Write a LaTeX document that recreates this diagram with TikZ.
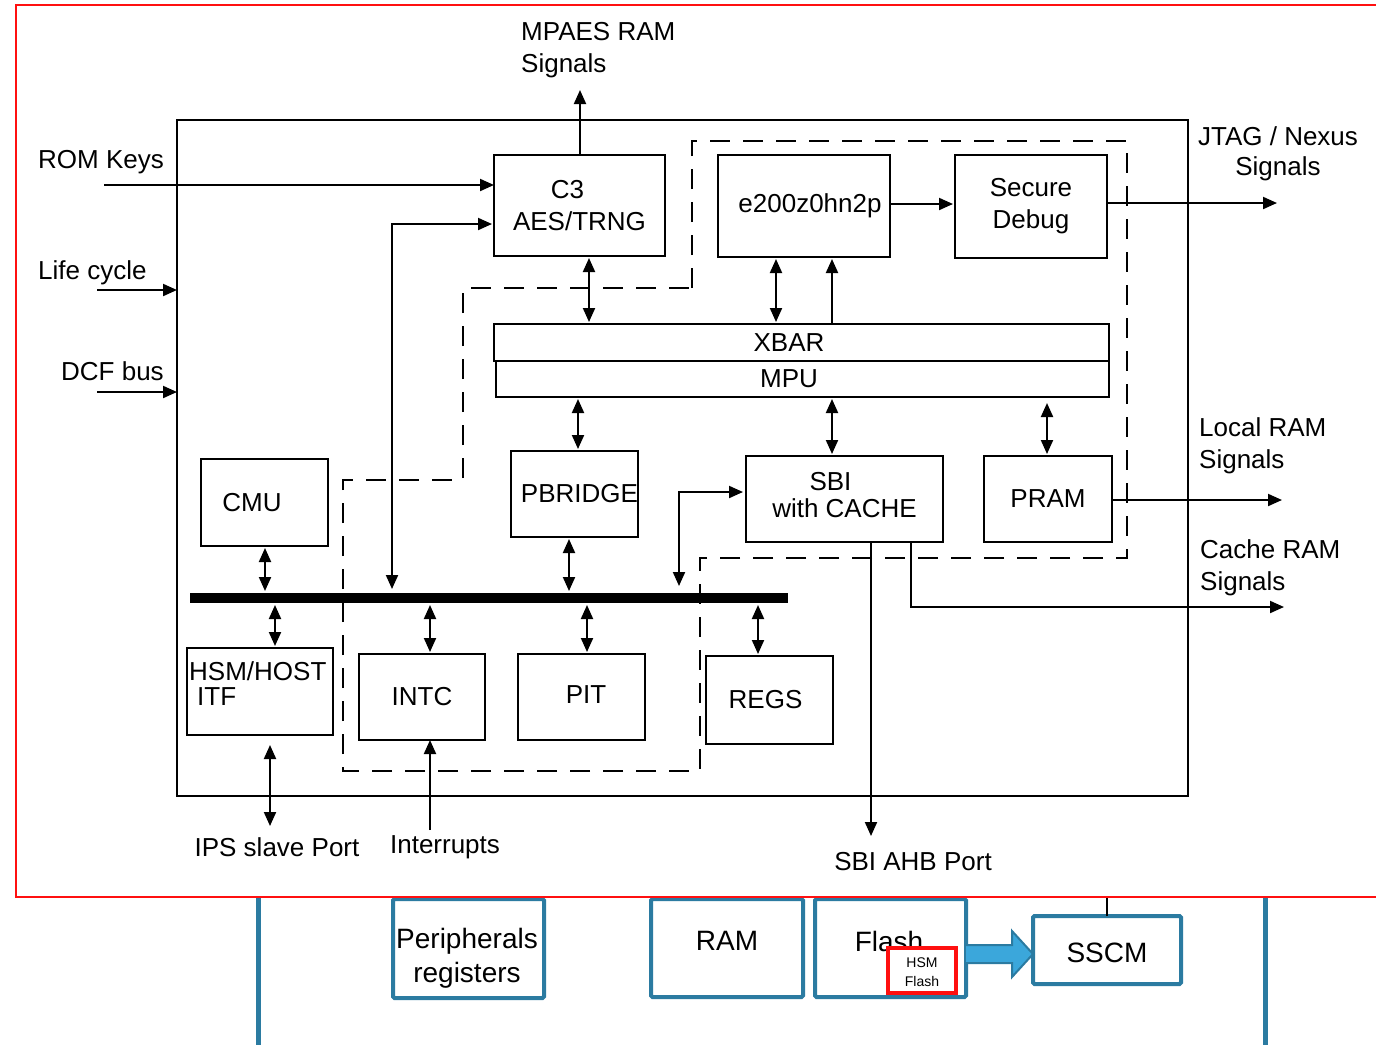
\documentclass[tikz,border=0pt]{standalone}
\usepackage{fontspec}
\setmainfont{Liberation Sans}
\usetikzlibrary{arrows.meta}
\definecolor{hblue}{HTML}{2B7BA1}
\definecolor{harrow}{HTML}{3BA7DB}
\definecolor{hred}{HTML}{FF1010}
\newcommand\mybox[7][blk]{\node[#1, minimum width={(#5-#3)*1pt}, minimum height={(#6-#4)*1pt}] (#2) at ({(#3+#5)/2},{(#4+#6)/2}) {#7};}
\begin{document}
\begin{tikzpicture}[x=1pt,y=-1pt,
  ln/.style={line width=2pt, black},
  blk/.style={draw, line width=2pt, rectangle, inner sep=0pt, outer sep=0pt, align=center, font=\fontsize{26}{32}\selectfont},
  bbox/.style={draw=hblue, line width=4pt, rectangle, rounded corners=1.5pt, inner sep=0pt, outer sep=0pt, fill=white},
  lbl/.style={inner sep=0pt, font=\fontsize{26}{32}\selectfont},
  blbl/.style={inner sep=0pt, font=\fontsize{28}{34}\selectfont},
  arr/.style={ln, -{Triangle[length=14pt,width=12pt]}},
  dbl/.style={ln, {Triangle[length=14pt,width=12pt]}-{Triangle[length=14pt,width=12pt]}, shorten <=2pt, shorten >=2pt},
  dsh/.style={line width=2pt, dash pattern=on 20pt off 13pt},
]
\useasboundingbox (0,0) rectangle (1376,1045);

% ---- bottom part (blue) ----
\draw[hblue, line width=5pt] (258,897) -- (258,1045);
\draw[hblue, line width=5pt] (1265,897) -- (1265,1045);
\mybox[bbox]{periph}{393}{899}{544}{998}{}
\mybox[bbox]{ram}{651}{899}{803}{997}{}
\mybox[bbox]{flash}{815}{899}{966}{997}{}
\mybox[bbox]{sscm}{1033}{916}{1181}{984}{}
\node[blbl, align=center] (periphT) at (467,958) {Peripherals\\registers};
\node[blbl] (ramT) at (727,941) {RAM};
\node[blbl] (flashT) at (889,941) {Flash};
\node[blbl] (sscmT) at (1107,953) {SSCM};
\node[draw=hred, line width=4pt, fill=white, inner sep=0pt, minimum width=68pt, minimum height=45pt] (hsmfl) at (922,970.5) {};
\node[inner sep=0pt, align=center, font=\fontsize{14}{19}\selectfont] (hsmflT) at (922,972) {HSM\\Flash};
\draw[draw=hblue, fill=harrow, line width=2pt] (flash.east |- 0,945) -- (1012,945) -- (1012,931) -- (sscm.west |- 0,954) -- (1012,977) -- (1012,963) -- (flash.east |- 0,963);
\draw[ln] (sscm.north) -- (sscm.north |- 0,897);

% ---- red frame ----
\draw[hred, line width=2.5pt] (1380,5) -- (16,5) -- (16,897) -- (1380,897);

% ---- main block ----
\mybox{outer}{177}{120}{1188}{796}{}
\draw[dsh] (692,288) -- (692,141) -- (1127,141) -- (1127,558) -- (700,558) -- (700,771) -- (343,771) -- (343,480) -- (463,480) -- (463,288) -- cycle;

\mybox{c3}{494}{155}{665}{256}{C3\kern24pt\\AES/TRNG}
\mybox{core}{718}{155}{890}{257}{\kern12pt e200z0hn2p}
\mybox{sdbg}{955}{155}{1107}{258}{Secure\\Debug}
\mybox{xbar}{494}{324}{1109}{361}{XBAR\kern25pt}
\mybox{mpu}{496}{361}{1109}{397}{MPU\kern27pt}
\mybox{pbr}{511}{451}{638}{537}{\kern10pt PBRIDGE}
\mybox[blk,font=\fontsize{26}{27}\selectfont]{sbi}{746}{456}{943}{542}{\raisebox{8pt}{SBI\kern28pt}\\\raisebox{8pt}{with CACHE}}
\mybox{pram}{984}{456}{1112}{542}{PRAM}
\mybox{cmu}{201}{459}{328}{546}{CMU\kern25pt}
\mybox{hsm}{187}{648}{333}{735}{}
\node[lbl, anchor=west, align=left, font=\fontsize{26}{25}\selectfont] (hsmT) at (189,684) {HSM/HOST\\\kern8pt ITF};
\mybox{intc}{359}{654}{485}{740}{INTC}
\mybox{pit}{518}{654}{645}{740}{\kern9pt\raisebox{4pt}{PIT}}
\mybox{regs}{706}{656}{833}{744}{REGS\kern8pt}
\node[fill=black, inner sep=0pt, outer sep=0pt, minimum width=598pt, minimum height=10pt] (bus) at (489,598) {};

% ---- labels ----
\node[lbl, anchor=west, align=left] (mpaes) at (521,50) {MPAES RAM\\Signals};
\node[lbl, anchor=west] (rom) at (38,162) {ROM Keys};
\node[lbl, anchor=west] (life) at (38,273) {Life cycle};
\node[lbl, anchor=west] (dcf) at (61,371) {DCF bus};
\node[lbl, align=center, font=\fontsize{26}{30}\selectfont] (jtag) at (1278,154) {JTAG / Nexus\\Signals};
\node[lbl, anchor=west, align=left] (lram) at (1199,446) {Local RAM\\Signals};
\node[lbl, anchor=west, align=left] (cram) at (1200,568) {Cache RAM\\Signals};
\node[lbl] (ahb) at (913,862) {SBI AHB Port};
\node[lbl] (ips) at (277,847) {IPS slave Port};
\node[lbl] (irq) at (445,847) {Interrupts};

% ---- connectors ----
\coordinate (mpaesA) at (580,90);
\draw[arr] (580,0 |- c3.north) -- (mpaesA);
\coordinate (romS) at (104,185);
\draw[arr] (romS) -- (c3.west |- romS);
\coordinate (lcS) at (97,290);
\draw[arr] (lcS) -- (outer.west |- lcS);
\coordinate (dcfS) at (97,392);
\draw[arr] (dcfS) -- (outer.west |- dcfS);
\draw[dbl, shorten <=4pt] (392,0 |- bus.north) -- (392,224) -- (c3.west |- 0,224);
\draw[dbl] (589,0 |- c3.south) -- (589,0 |- xbar.north);
\draw[dbl] (776,0 |- core.south) -- (776,0 |- xbar.north);
\draw[arr, shorten >=2pt] (832,0 |- xbar.north) -- (832,0 |- core.south);
\draw[arr, shorten >=2pt] (core.east |- 0,204) -- (sdbg.west |- 0,204);
\coordinate (jtagE) at (1277,203);
\draw[arr] (sdbg.east |- jtagE) -- (jtagE);
\draw[dbl] (578,0 |- mpu.south) -- (578,0 |- pbr.north);
\draw[dbl] (832,0 |- mpu.south) -- (832,0 |- sbi.north);
\draw[dbl, shorten >=6pt] (1047,0 |- pram.north) -- (1047,0 |- mpu.south);
\coordinate (locE) at (1282,500);
\draw[arr] (pram.east |- locE) -- (locE);
\coordinate (cacE) at (1284,607);
\draw[arr] (911,0 |- sbi.south) -- (911,607) -- (cacE);
\coordinate (ahbE) at (871,836);
\draw[arr] (871,0 |- sbi.south) -- (ahbE);
\draw[dbl, shorten <=7pt, shorten >=3pt] (679,0 |- bus.north) -- (679,492) -- (sbi.west |- 0,492);
\draw[dbl] (265,0 |- cmu.south) -- (265,0 |- bus.north);
\draw[dbl] (275,0 |- bus.south) -- (275,0 |- hsm.north);
\draw[dbl] (569,0 |- pbr.south) -- (569,0 |- bus.north);
\draw[dbl] (430,0 |- bus.south) -- (430,0 |- intc.north);
\draw[dbl] (587,0 |- bus.south) -- (587,0 |- pit.north);
\draw[dbl] (758,0 |- bus.south) -- (758,0 |- regs.north);
\coordinate (irqS) at (430,830);
\draw[arr] (irqS) -- (430,0 |- intc.south);
\coordinate (ipsE) at (270,826);
\draw[dbl, shorten <=10pt, shorten >=0pt] (270,0 |- hsm.south) -- (ipsE);
\end{tikzpicture}
\end{document}
